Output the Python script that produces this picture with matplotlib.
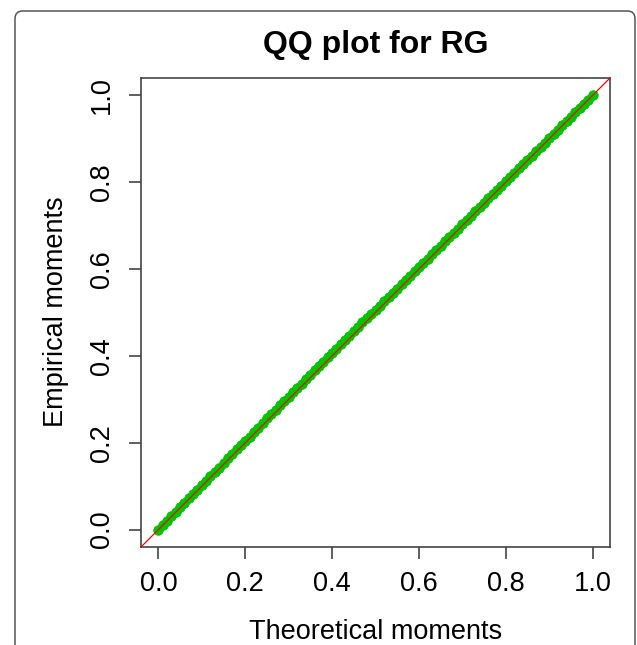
import matplotlib
matplotlib.use("Agg")
import matplotlib.pyplot as plt
from matplotlib.patches import FancyBboxPatch

plt.rcParams['font.family'] = ['Liberation Sans', 'DejaVu Sans']

# theoretical vs empirical moments
theoretical = [
    0.00, 0.01, 0.02, 0.03, 0.04, 0.05, 0.06, 0.07, 0.08, 0.09,
    0.10, 0.11, 0.12, 0.13, 0.14, 0.15, 0.16, 0.17, 0.18, 0.19,
    0.20, 0.21, 0.22, 0.23, 0.24, 0.25, 0.26, 0.27, 0.28, 0.29,
    0.30, 0.31, 0.32, 0.33, 0.34, 0.35, 0.36, 0.37, 0.38, 0.39,
    0.40, 0.41, 0.42, 0.43, 0.44, 0.45, 0.46, 0.47, 0.48, 0.49,
    0.50, 0.51, 0.52, 0.53, 0.54, 0.55, 0.56, 0.57, 0.58, 0.59,
    0.60, 0.61, 0.62, 0.63, 0.64, 0.65, 0.66, 0.67, 0.68, 0.69,
    0.70, 0.71, 0.72, 0.73, 0.74, 0.75, 0.76, 0.77, 0.78, 0.79,
    0.80, 0.81, 0.82, 0.83, 0.84, 0.85, 0.86, 0.87, 0.88, 0.89,
    0.90, 0.91, 0.92, 0.93, 0.94, 0.95, 0.96, 0.97, 0.98, 0.99,
    1.00]
empirical = [
    0.000, 0.010, 0.021, 0.031, 0.041, 0.051, 0.062, 0.072, 0.082, 0.092,
    0.102, 0.113, 0.123, 0.133, 0.143, 0.154, 0.164, 0.174, 0.185, 0.194,
    0.204, 0.214, 0.225, 0.235, 0.245, 0.256, 0.266, 0.276, 0.286, 0.296,
    0.306, 0.316, 0.326, 0.336, 0.347, 0.357, 0.367, 0.377, 0.387, 0.397,
    0.407, 0.417, 0.427, 0.437, 0.447, 0.457, 0.467, 0.477, 0.487, 0.496,
    0.506, 0.516, 0.526, 0.536, 0.545, 0.555, 0.565, 0.575, 0.585, 0.595,
    0.605, 0.614, 0.624, 0.634, 0.644, 0.654, 0.664, 0.674, 0.684, 0.693,
    0.703, 0.713, 0.723, 0.733, 0.743, 0.753, 0.763, 0.772, 0.782, 0.792,
    0.802, 0.812, 0.822, 0.832, 0.842, 0.851, 0.861, 0.871, 0.881, 0.891,
    0.901, 0.911, 0.921, 0.931, 0.941, 0.951, 0.961, 0.971, 0.980, 0.990,
    1.000]
ticks = [0.0, 0.2, 0.4, 0.6, 0.8, 1.0]
tick_labels = ['0.0', '0.2', '0.4', '0.6', '0.8', '1.0']

fig = plt.figure(figsize=(6.37, 6.45), dpi=100)

# outer rounded frame (runs off the bottom of the image)
frame = FancyBboxPatch((15 / 637, -0.05), (635 - 15) / 637, 1.05 - 11 / 645,
                       boxstyle="round,pad=0,rounding_size=0.012",
                       transform=fig.transFigure, fill=False,
                       edgecolor='#555555', linewidth=1.1)
fig.patches.append(frame)

ax = fig.add_axes([141 / 637, 1 - 547 / 645, 469 / 637, 469 / 645])

ax.plot(theoretical, empirical, 'o', color='#00c800', markeredgecolor='#00b400',
        markeredgewidth=0.4, markersize=7, zorder=2)
ax.axline((0, 0), slope=1, color='red', linewidth=0.9, zorder=3)

ax.set_xlim(-0.04, 1.04)
ax.set_ylim(-0.04, 1.04)
ax.set_xticks(ticks)
ax.set_xticklabels(tick_labels)
ax.set_yticks(ticks)
ax.set_yticklabels(tick_labels, rotation=90, va='center')

for s in ax.spines.values():
    s.set_color('#444444')
    s.set_linewidth(1.2)
ax.tick_params(direction='out', length=8.5, width=1.2, color='#444444',
               labelsize=19.5, pad=9)
ax.tick_params(axis='y', pad=10)

fig.text(0.5 * (141 + 610) / 637, 1 - 45 / 645, 'QQ plot for RG',
         ha='center', va='center', fontsize=23, fontweight='bold')
fig.text(0.5 * (141 + 610) / 637, 1 - 632 / 645, 'Theoretical moments',
         ha='center', va='center', fontsize=19.5)
fig.text(56 / 637, 1 - 312 / 645, 'Empirical moments', rotation=90,
         ha='center', va='center', fontsize=19.5)

fig.savefig('out.png', dpi=100)
